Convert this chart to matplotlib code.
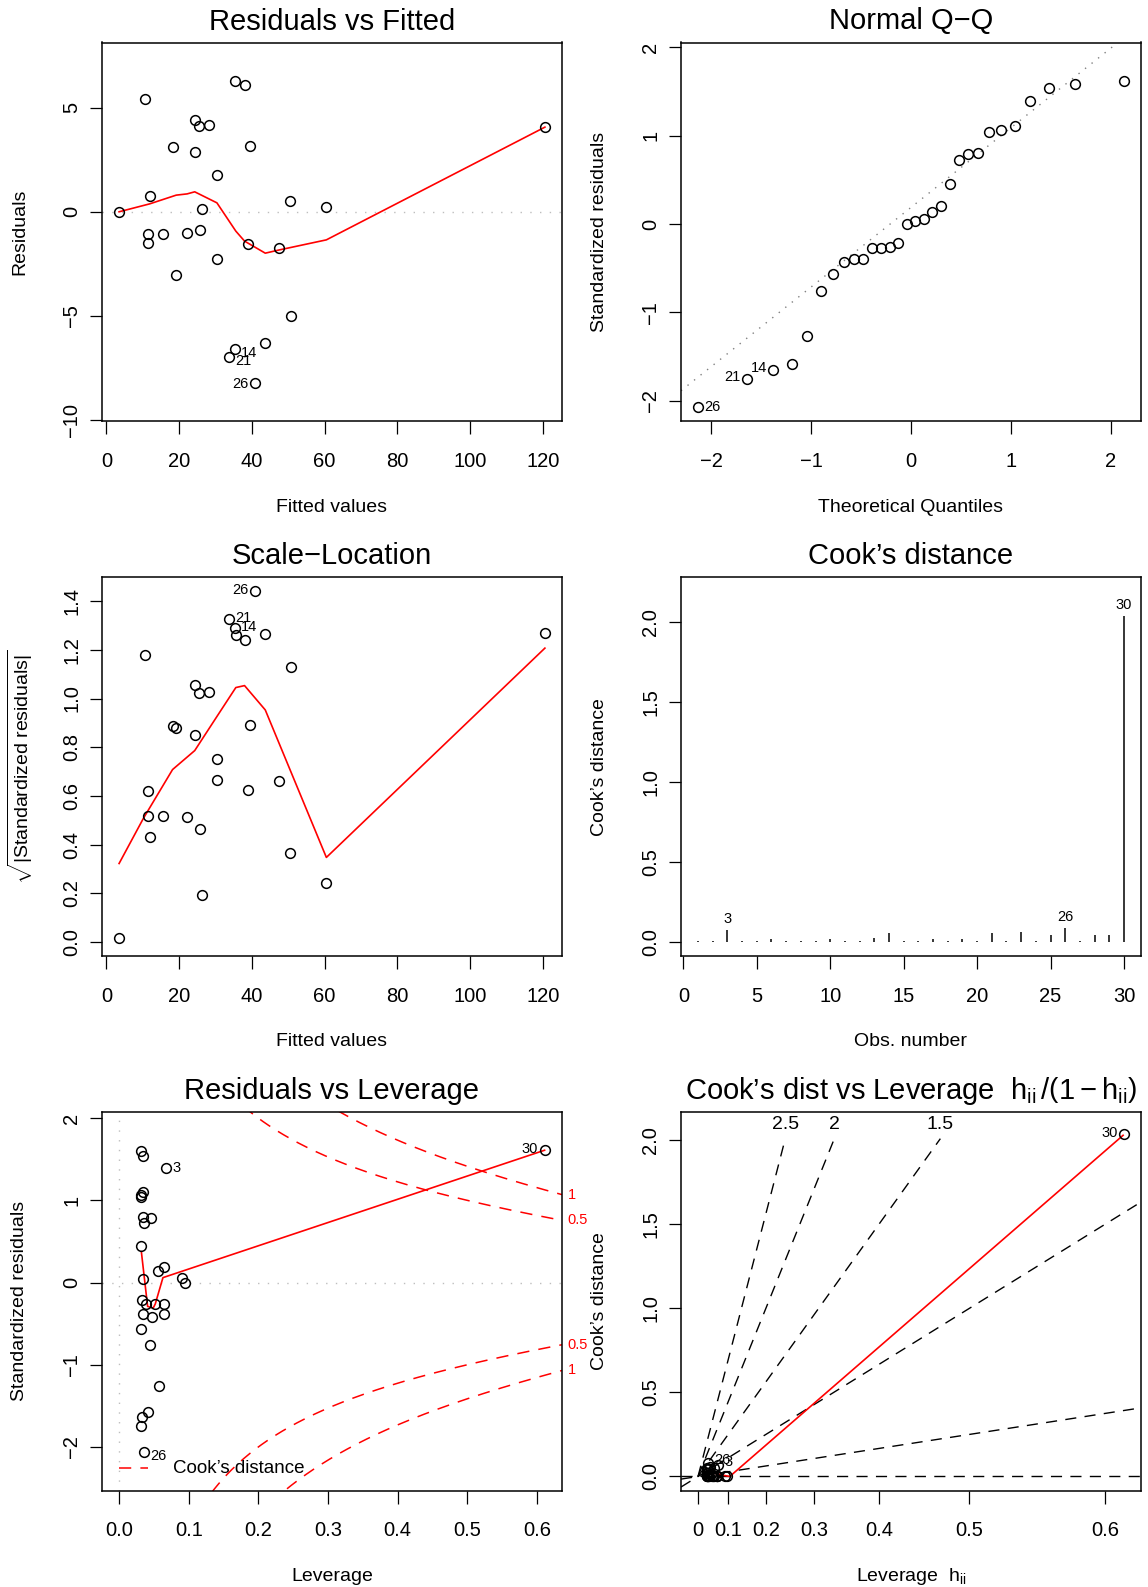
"""R-style lm diagnostic panels (plot.lm which=1:6) redrawn with matplotlib."""
import numpy as np
import matplotlib
matplotlib.use("Agg")
import matplotlib.pyplot as plt

plt.rcParams["font.family"] = ["Liberation Sans", "DejaVu Sans"]
plt.rcParams["mathtext.fontset"] = "custom"
plt.rcParams["mathtext.rm"] = "Liberation Sans"
plt.rcParams["mathtext.it"] = "Liberation Sans:italic"
plt.rcParams["mathtext.bf"] = "Liberation Sans:bold"
plt.rcParams["axes.unicode_minus"] = True

W, H = 1148, 1587
RED = "#FF0000"
GRAY = "#BEBEBE"

# ---------------------------------------------------------------------------
# data
# ---------------------------------------------------------------------------
# Residuals vs Fitted
fitted = [3.5, 10.75, 35.5, 38.0, 24.3, 25.6, 28.2, 18.2, 24.3, 39.5,
          30.5, 11.9, 50.4, 60.5, 26.3, 11.5, 11.5, 15.7, 22.2, 25.8,
          39.0, 47.4, 30.4, 19.2, 50.7, 43.7, 35.3, 33.6, 40.9, 120.6]
resid = [0.0, 5.41, 6.31, 6.10, 4.39, 4.13, 4.16, 3.11, 2.87, 3.16,
         1.76, 0.74, 0.53, 0.22, 0.14, -1.06, -1.51, -1.06, -1.04, -0.87,
         -1.56, -1.72, -2.26, -3.05, -5.00, -6.30, -6.59, -6.96, -8.22, 4.07]
resid_ids = {26: "14", 27: "21", 28: "26"}
resid_smooth_x = [3.5, 11.9, 19.2, 22.2, 24.3, 30.4, 35.6, 38.0, 43.7, 47.4, 60.5, 120.6]
resid_smooth_y = [0.0, 0.38, 0.80, 0.86, 0.96, 0.43, -0.93, -1.41, -1.99, -1.84, -1.35, 4.07]

# Normal Q-Q
theo_q = [-2.13, -1.64, -1.38, -1.19, -1.04, -0.90, -0.78, -0.67, -0.57, -0.48,
          -0.39, -0.30, -0.21, -0.13, -0.04, 0.04, 0.13, 0.21, 0.30, 0.39,
          0.48, 0.57, 0.67, 0.78, 0.90, 1.04, 1.19, 1.38, 1.64, 2.13]
qq_resid = [-2.07, -1.75, -1.65, -1.59, -1.27, -0.76, -0.56, -0.43, -0.39, -0.39,
            -0.27, -0.27, -0.26, -0.21, 0.00, 0.04, 0.06, 0.14, 0.20, 0.45,
            0.73, 0.79, 0.80, 1.04, 1.06, 1.11, 1.39, 1.54, 1.59, 1.62]
qq_ids = {0: "26", 1: "21", 2: "14"}

# Scale-Location
sl_fitted = [3.5, 10.75, 40.9, 33.6, 35.3, 35.6, 38.0, 43.7, 120.6, 50.7,
             24.3, 25.6, 28.2, 18.2, 19.2, 24.3, 39.5, 30.4, 30.5, 39.0,
             47.4, 11.5, 11.5, 15.7, 22.2, 25.8, 11.9, 50.4, 60.5, 26.3]
sl_sqrt = [0.018, 1.18, 1.44, 1.326, 1.29, 1.26, 1.24, 1.264, 1.27, 1.128,
           1.055, 1.021, 1.026, 0.888, 0.877, 0.852, 0.892, 0.753, 0.666, 0.626,
           0.659, 0.622, 0.519, 0.519, 0.514, 0.464, 0.433, 0.367, 0.240, 0.193]
sl_ids = {2: "26", 3: "21", 4: "14"}
sl_smooth_x = [3.5, 10.2, 18.2, 24.3, 30.4, 35.6, 38.0, 43.7, 60.5, 120.6]
sl_smooth_y = [0.322, 0.508, 0.708, 0.786, 0.926, 1.045, 1.053, 0.953, 0.347, 1.207]

# Cook's distance by observation
obs = list(range(1, 31))
cooks = [0.005, 0.005, 0.076, 0.005, 0.005, 0.019, 0.005, 0.005, 0.005, 0.019,
         0.005, 0.005, 0.025, 0.056, 0.005, 0.005, 0.019, 0.005, 0.019, 0.005,
         0.056, 0.005, 0.060, 0.005, 0.043, 0.087, 0.005, 0.043, 0.043, 2.037]
cook_ids = [3, 26, 30]

# Residuals vs Leverage
leverage = [0.032, 0.034, 0.068, 0.035, 0.032, 0.032, 0.034, 0.046, 0.036, 0.032,
            0.056, 0.064, 0.034, 0.090, 0.095, 0.033, 0.039, 0.051, 0.065, 0.034,
            0.048, 0.065, 0.032, 0.045, 0.057, 0.042, 0.033, 0.032, 0.036, 0.611]
std_resid = [1.60, 1.54, 1.39, 1.10, 1.06, 1.04, 0.80, 0.79, 0.73, 0.45,
             0.14, 0.19, 0.04, 0.06, 0.00, -0.21, -0.26, -0.26, -0.26, -0.38,
             -0.42, -0.38, -0.56, -0.76, -1.26, -1.58, -1.64, -1.74, -2.06, 1.61]
lev_cook = [0.042, 0.042, 0.0705, 0.022, 0.019, 0.018, 0.011, 0.015, 0.010, 0.003,
            0.001, 0.001, 0.000, 0.000, 0.000, 0.001, 0.001, 0.002, 0.002, 0.003,
            0.004, 0.005, 0.005, 0.014, 0.048, 0.055, 0.046, 0.050, 0.079, 2.036]
lev_ids = {2: "3", 28: "26", 29: "30"}
lev_smooth_x = [0.032, 0.041, 0.049, 0.052, 0.063, 0.611]
lev_smooth_y = [0.376, -0.29, -0.31, -0.26, 0.06, 1.61]
cook_levels = [0.5, 1.0]
n_coef = 2

# Cook's dist vs leverage h/(1-h)
cook_lev_smooth_x = [0.034, 0.060, 0.083, 0.117, 1.567]
cook_lev_smooth_y = [0.036, 0.020, 0.010, 0.000, 2.030]
contour_b = [0, 0.5, 1, 1.5, 2, 2.5]
lev_tick_vals = [0, 0.1, 0.2, 0.3, 0.4, 0.5, 0.6]

# ---------------------------------------------------------------------------
fig = plt.figure(figsize=(W / 100, H / 100), dpi=100)

LEFT = (102, 562)
RIGHT = (681, 1141)
ROWS = [(42.5, 421), (577.3, 956), (1111.6, 1490.5)]


def make_axes(col, row):
    l, r = col
    t, b = row
    ax = fig.add_axes([l / W, 1 - b / H, (r - l) / W, (b - t) / H])
    return ax, (l, t, r, b)


def decorate(box, title, xlabel, ylabel):
    l, t, r, b = box
    cx, cy = (l + r) / 2, (t + b) / 2
    if title:
        fig.text(cx / W, 1 - (t - 21) / H, title, ha="center", va="center", fontsize=21)
    fig.text(cx / W, 1 - (b + 86) / H, xlabel, ha="center", va="center", fontsize=14)
    fig.text((l - 82) / W, 1 - cy / H, ylabel, ha="center", va="center",
             rotation=90, fontsize=14)


def r_axes(ax, xticks, xlabels, yticks, ylabels, xlim, ylim):
    ax.set_xlim(*xlim)
    ax.set_ylim(*ylim)
    ax.set_xticks(xticks, xlabels)
    ax.set_yticks(yticks, ylabels)
    ax.tick_params(direction="out", length=9, width=0.9, labelsize=14.5)
    ax.tick_params(axis="x", pad=13)
    ax.tick_params(axis="y", pad=6, labelrotation=90)
    for t in ax.get_yticklabels():
        t.set_va("center")
    for s in ax.spines.values():
        s.set_linewidth(1.1)


def points(ax, x, y):
    ax.plot(x, y, "o", mfc="none", mec="black", ms=7, mew=1.1, zorder=3)


def label(ax, x, y, s, side, dy=0):
    dx = 4.5 if side == "right" else -4.5
    ha = "left" if side == "right" else "right"
    ax.annotate(s, (x, y), xytext=(dx, dy), textcoords="offset points",
                ha=ha, va="center", fontsize=10.5, annotation_clip=False)


def fmt(vals, nd):
    return [f"{v:.{nd}f}".replace("-", "\u2212") for v in vals]


# 1. Residuals vs Fitted -----------------------------------------------------
ax, box = make_axes(LEFT, ROWS[0])
ax.axhline(0, color=GRAY, lw=1, dashes=(1, 6))
points(ax, fitted, resid)
ax.plot(resid_smooth_x, resid_smooth_y, color=RED, lw=1.2)
for i, s in resid_ids.items():
    if s == "26":
        label(ax, fitted[i], resid[i], s, "left", -1)
    else:
        label(ax, fitted[i], resid[i], s, "right", -3)
r_axes(ax, range(0, 121, 20), [str(v) for v in range(0, 121, 20)],
       [-10, -5, 0, 5], fmt([-10, -5, 0, 5], 0), (-1.2, 125.3), (-10.06, 8.14))
decorate(box, "Residuals vs Fitted", "Fitted values", "Residuals")

# 2. Normal Q-Q ---------------------------------------------------------------
ax, box = make_axes(RIGHT, ROWS[0])
q1, q3 = np.percentile(qq_resid, [25, 75])
slope = (q3 - q1) / (2 * 0.6745)
ax.axline((0, (q1 + q3) / 2), slope=slope, color="#808080", lw=1, dashes=(1, 5))
points(ax, theo_q, qq_resid)
for i, s in qq_ids.items():
    if s == "26":
        label(ax, theo_q[i], qq_resid[i], s, "right")
    else:
        label(ax, theo_q[i], qq_resid[i], s, "left", 1)
r_axes(ax, [-2, -1, 0, 1, 2], fmt([-2, -1, 0, 1, 2], 0),
       [-2, -1, 0, 1, 2], fmt([-2, -1, 0, 1, 2], 0), (-2.30, 2.30), (-2.23, 2.056))
decorate(box, "Normal Q\u2212Q", "Theoretical Quantiles", "Standardized residuals")

# 3. Scale-Location -----------------------------------------------------------
ax, box = make_axes(LEFT, ROWS[1])
points(ax, sl_fitted, sl_sqrt)
ax.plot(sl_smooth_x, sl_smooth_y, color=RED, lw=1.2)
for i, s in sl_ids.items():
    if s == "26":
        label(ax, sl_fitted[i], sl_sqrt[i], s, "left", 1)
    else:
        label(ax, sl_fitted[i], sl_sqrt[i], s, "right", 1)
yt = [0.0, 0.2, 0.4, 0.6, 0.8, 1.0, 1.2, 1.4]
r_axes(ax, range(0, 121, 20), [str(v) for v in range(0, 121, 20)],
       yt, fmt(yt, 1), (-1.2, 125.3), (-0.058, 1.498))
decorate(box, "Scale\u2212Location", "Fitted values",
         r"$\sqrt{|\mathrm{Standardized\ residuals}|}$")

# 4. Cook's distance ----------------------------------------------------------
ax, box = make_axes(RIGHT, ROWS[1])
ax.vlines(obs, 0, cooks, color="black", lw=1.1)
for o in cook_ids:
    ax.annotate(str(o), (o, cooks[o - 1]), xytext=(0, 3), textcoords="offset points",
                ha="center", va="bottom", fontsize=10.5)
yt = [0.0, 0.5, 1.0, 1.5, 2.0]
r_axes(ax, range(0, 31, 5), [str(v) for v in range(0, 31, 5)],
       yt, fmt(yt, 1), (-0.16, 31.16), (-0.0876, 2.277))
decorate(box, "Cook\u2019s distance", "Obs. number", "Cook\u2019s distance")

# 5. Residuals vs Leverage ----------------------------------------------------
ax, box = make_axes(LEFT, ROWS[2])
xlim5 = (-0.0245, 0.636)
ax.axhline(0, color=GRAY, lw=1, dashes=(1, 6))
ax.axvline(0, color=GRAY, lw=1, dashes=(1, 6))
points(ax, leverage, std_resid)
ax.plot(lev_smooth_x, lev_smooth_y, color=RED, lw=1.2)
hh = np.linspace(0.0005, xlim5[1], 300)
for D in cook_levels:
    cl = np.sqrt(D * n_coef * (1 - hh) / hh)
    ax.plot(hh, cl, color=RED, lw=1.1, dashes=(8, 6))
    ax.plot(hh, -cl, color=RED, lw=1.1, dashes=(8, 6))
    yv = np.sqrt(D * n_coef * (1 - xlim5[1]) / xlim5[1])
    txt = "1" if D == 1 else "0.5"
    for sgn in (1, -1):
        ax.annotate(txt, (xlim5[1], sgn * yv), xytext=(4, 0), textcoords="offset points",
                    ha="left", va="center", fontsize=10.5, color=RED,
                    annotation_clip=False)
for i, s in lev_ids.items():
    if s == "30":
        label(ax, leverage[i], std_resid[i], s, "left", 1)
    elif s == "26":
        label(ax, leverage[i], std_resid[i], s, "right", -3)
    else:
        label(ax, leverage[i], std_resid[i], s, "right")
# legend ("bottomleft", no box)
ax.plot([0.036, 0.10], [0.059, 0.059], transform=ax.transAxes, color=RED, lw=1.1,
        dashes=(8, 6))
ax.text(0.154, 0.059, "Cook\u2019s distance", transform=ax.transAxes, ha="left",
        va="center", fontsize=13.5)
xt = [0.0, 0.1, 0.2, 0.3, 0.4, 0.5, 0.6]
r_axes(ax, xt, fmt(xt, 1), [-2, -1, 0, 1, 2], fmt([-2, -1, 0, 1, 2], 0),
       xlim5, (-2.53, 2.08))
decorate(box, "Residuals vs Leverage", "Leverage", "Standardized residuals")

# 6. Cook's dist vs Leverage h/(1-h) -----------------------------------------
ax, box = make_axes(RIGHT, ROWS[2])
xlim6, ylim6 = (-0.0628, 1.633), (-0.0835, 2.171)
lev = np.array(leverage)
g = lev / (1 - lev)
y_top = 2.01
for b in contour_b:
    b2 = b * b
    if b2 * xlim6[1] < ylim6[1]:
        ax.axline((0, 0), slope=b2, color="black", lw=1.0, dashes=(8, 6))
    else:
        ax.plot([0, y_top / b2], [0, y_top], color="black", lw=1.0, dashes=(8, 6))
        ax.text(y_top / b2, 2.094, f"{b:g}", ha="center", va="center", fontsize=14)
points(ax, g, lev_cook)
ax.plot(cook_lev_smooth_x, cook_lev_smooth_y, color=RED, lw=1.2)
for i, s in lev_ids.items():
    if s == "30":
        label(ax, g[i], lev_cook[i], s, "left", 1)
    else:
        label(ax, g[i], lev_cook[i], s, "right", 2)
athat = np.array(lev_tick_vals)
r_axes(ax, athat / (1 - athat), [f"{v:g}" for v in lev_tick_vals],
       yt, fmt(yt, 1), xlim6, ylim6)
decorate(box, "Cook\u2019s dist vs Leverage  "
         r"$\mathrm{h}_{\mathrm{ii}}\,/\left(1-\mathrm{h}_{\mathrm{ii}}\right)$",
         r"Leverage  $\mathrm{h}_{\mathrm{ii}}$", "Cook\u2019s distance")

fig.savefig("out.png", dpi=100)
